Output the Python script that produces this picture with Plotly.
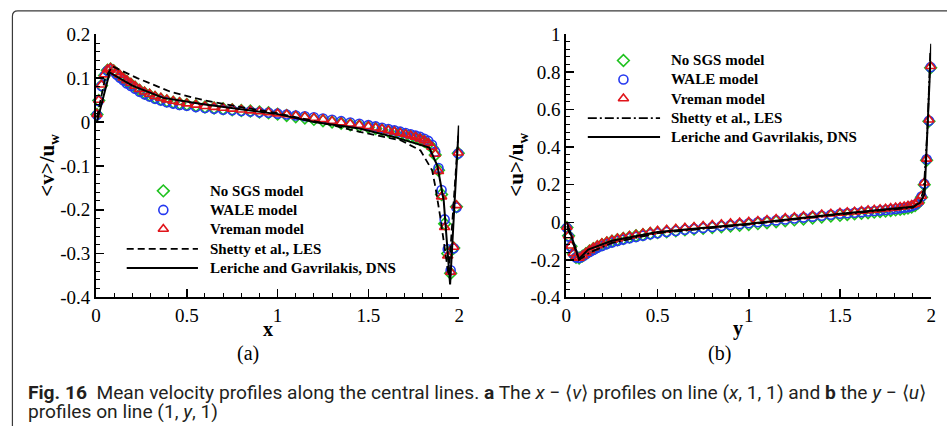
import plotly.graph_objects as go

# ---------------- data: panel (a)  <v>/u_w  vs x ----------------
xa = [0.005, 0.015, 0.03, 0.047, 0.063, 0.08, 0.097, 0.114, 0.132, 0.15, 0.17, 0.192, 0.215, 0.24, 0.267,
      0.295, 0.325, 0.357, 0.39, 0.425, 0.46, 0.5,
      0.55, 0.6, 0.65, 0.7, 0.75, 0.8, 0.85, 0.9, 0.95, 1.0, 1.05, 1.1, 1.15, 1.2, 1.25, 1.3, 1.35, 1.4, 1.45,
      1.5, 1.54, 1.575, 1.61, 1.643, 1.675, 1.705, 1.733, 1.76, 1.785, 1.808, 1.83, 1.85, 1.868, 1.886, 1.903,
      1.92, 1.937, 1.953, 1.97, 1.985, 1.995]
vreman_a = [0.018, 0.05, 0.085, 0.108, 0.12, 0.123, 0.119, 0.113, 0.107, 0.101, 0.095, 0.089, 0.082, 0.075, 0.069,
            0.064, 0.059, 0.055, 0.051, 0.048, 0.045, 0.042,
            0.039, 0.036, 0.034, 0.032, 0.03, 0.028, 0.026, 0.024, 0.022, 0.019, 0.017, 0.014, 0.012, 0.009, 0.006,
            0.002, -0.001, -0.004, -0.007,
            -0.01, -0.013, -0.016, -0.019, -0.022, -0.025, -0.028, -0.031, -0.034, -0.038, -0.042, -0.048, -0.057,
            -0.073, -0.112, -0.17, -0.24, -0.305, -0.342, -0.285, -0.19, -0.07]
wale_a = [0.016, 0.048, 0.082, 0.105, 0.117, 0.12, 0.115, 0.108, 0.101, 0.095, 0.088, 0.082, 0.076, 0.069, 0.063,
          0.058, 0.053, 0.049, 0.045, 0.042, 0.039, 0.037,
          0.034, 0.032, 0.03, 0.028, 0.027, 0.025, 0.024, 0.022, 0.021, 0.019, 0.017, 0.015, 0.013, 0.011, 0.008,
          0.005, 0.002, -0.001, -0.004,
          -0.007, -0.01, -0.013, -0.016, -0.019, -0.022, -0.025, -0.028, -0.031, -0.034, -0.038, -0.043, -0.052,
          -0.068, -0.105, -0.155, -0.222, -0.29, -0.338, -0.288, -0.195, -0.072]
nosgs_a = [0.017, 0.049, 0.083, 0.106, 0.118, 0.121, 0.117, 0.11, 0.104, 0.098, 0.092, 0.086, 0.079, 0.072, 0.066,
           0.061, 0.056, 0.052, 0.048, 0.045, 0.042, 0.04,
           0.037, 0.034, 0.032, 0.03, 0.028, 0.026, 0.025, 0.023, 0.021, 0.018, 0.015, 0.012, 0.009, 0.006, 0.003,
           0.0, -0.003, -0.006, -0.009,
           -0.012, -0.015, -0.018, -0.021, -0.024, -0.027, -0.03, -0.033, -0.036, -0.04, -0.044, -0.05, -0.058,
           -0.075, -0.11, -0.165, -0.232, -0.3, -0.345, -0.287, -0.193, -0.071]
dns_a_x = [0.005, 0.075, 0.2, 0.37, 0.6, 1.0, 1.2, 1.45, 1.65, 1.835, 1.88, 1.915, 1.95, 1.998]
dns_a_v = [0.0, 0.113, 0.083, 0.055, 0.04, 0.018, 0.0, -0.015, -0.035, -0.058, -0.1, -0.18, -0.37, -0.008]
les_a_x = [0.005, 0.05, 0.09, 0.227, 0.41, 0.59, 0.77, 1.0, 1.225, 1.46, 1.68, 1.787, 1.851, 1.869, 1.896,
           1.924, 1.942, 1.995]
les_a_v = [0.01, 0.1, 0.127, 0.1, 0.069, 0.05, 0.036, 0.02, 0.0, -0.023, -0.042, -0.065, -0.11, -0.148, -0.217,
           -0.293, -0.35, -0.03]

# ---------------- data: panel (b)  <u>/u_w  vs y ----------------
yb = [0.003, 0.012, 0.025, 0.038, 0.053, 0.07, 0.088, 0.107, 0.127, 0.148, 0.17, 0.195, 0.222, 0.25, 0.28,
      0.312, 0.346, 0.382, 0.42, 0.46, 0.5,
      0.55, 0.6, 0.65, 0.7, 0.75, 0.8, 0.85, 0.9, 0.95, 1.0, 1.05, 1.1, 1.15, 1.2, 1.25, 1.3, 1.35, 1.4, 1.45,
      1.5, 1.54, 1.58, 1.618, 1.654, 1.688, 1.72, 1.75, 1.778, 1.805, 1.83, 1.852, 1.873, 1.893, 1.912, 1.93,
      1.947, 1.962, 1.975, 1.988, 1.997]
vreman_b = [-0.025, -0.07, -0.125, -0.165, -0.185, -0.19, -0.178, -0.163, -0.148, -0.135, -0.123, -0.112, -0.102,
            -0.094, -0.087, -0.08, -0.073, -0.066, -0.059, -0.052, -0.046,
            -0.04, -0.035, -0.03, -0.025, -0.02, -0.015, -0.011, -0.006, -0.002, 0.002, 0.007, 0.012, 0.017,
            0.022, 0.027, 0.032, 0.036, 0.041, 0.045,
            0.05, 0.053, 0.056, 0.06, 0.063, 0.066, 0.069, 0.072, 0.075, 0.078, 0.081, 0.084, 0.087, 0.092, 0.098,
            0.11, 0.14, 0.21, 0.337, 0.545, 0.83]
wale_b = [-0.03, -0.075, -0.13, -0.168, -0.187, -0.19, -0.182, -0.17, -0.158, -0.147, -0.136, -0.126, -0.116,
          -0.107, -0.099, -0.092, -0.085, -0.078, -0.071, -0.064, -0.058,
          -0.052, -0.046, -0.04, -0.035, -0.03, -0.025, -0.02, -0.015, -0.01, -0.005, 0.0, 0.005, 0.01, 0.015,
          0.02, 0.025, 0.03, 0.035, 0.04,
          0.045, 0.048, 0.051, 0.054, 0.057, 0.06, 0.062, 0.065, 0.068, 0.071, 0.074, 0.077, 0.08, 0.085, 0.093,
          0.107, 0.137, 0.205, 0.335, 0.54, 0.825]
nosgs_b = [-0.028, -0.072, -0.128, -0.167, -0.186, -0.19, -0.18, -0.167, -0.153, -0.141, -0.13, -0.12, -0.11,
           -0.101, -0.093, -0.086, -0.079, -0.072, -0.066, -0.06, -0.055,
           -0.05, -0.045, -0.04, -0.036, -0.032, -0.028, -0.024, -0.02, -0.016, -0.012, -0.007, -0.002, 0.003,
           0.008, 0.013, 0.018, 0.023, 0.028, 0.033,
           0.037, 0.041, 0.045, 0.048, 0.051, 0.054, 0.057, 0.06, 0.063, 0.066, 0.069, 0.072, 0.076, 0.081, 0.089,
           0.104, 0.133, 0.2, 0.33, 0.538, 0.822]
dns_b_y = [0.003, 0.069, 0.12, 0.25, 0.5, 1.0, 1.5, 1.9, 1.94, 1.964, 2.0]
dns_b_u = [0.0, -0.195, -0.145, -0.098, -0.052, -0.008, 0.046, 0.082, 0.105, 0.15, 0.95]
les_b_y = [0.003, 0.07, 0.13, 0.25, 0.5, 1.0, 1.5, 1.9, 1.94, 1.96, 1.98, 1.995]
les_b_u = [-0.02, -0.2, -0.16, -0.11, -0.058, -0.012, 0.042, 0.078, 0.11, 0.18, 0.5, 0.9]

# ---------------- tick labels ----------------
x_tickvals = [0, 0.5, 1, 1.5, 2]
x_ticktext = ["0", "0.5", "1", "1.5", "2"]
ya_tickvals = [-0.4, -0.3, -0.2, -0.1, 0, 0.1, 0.2]
ya_ticktext = ["-0.4", "-0.3", "-0.2", "-0.1", "0", "0.1", "0.2"]
yb_tickvals = [-0.4, -0.2, 0, 0.2, 0.4, 0.6, 0.8, 1]
yb_ticktext = ["-0.4", "-0.2", "0", "0.2", "0.4", "0.6", "0.8", "1"]

series_names = ["No SGS model", "WALE model", "Vreman model"]
line_names = ["Shetty et al., LES", "Leriche and Gavrilakis, DNS"]

# ---------------- styling ----------------
W, H = 952, 437
GREEN, BLUE, RED = "#1fc21f", "#2438f0", "#e0141a"
SERIF = "Liberation Serif, Times New Roman, serif"
marker_styles = [
    dict(symbol="diamond-open", size=9, color=GREEN, line=dict(width=1.6, color=GREEN)),
    dict(symbol="circle-open", size=9, color=BLUE, line=dict(width=1.6, color=BLUE)),
    dict(symbol="triangle-up-open", size=9, color=RED, line=dict(width=1.6, color=RED)),
]

fig = go.Figure()


def add_panel(xv, series, dns_x, dns_y, les_x, les_y, les_dash, xa_name, ya_name):
    for s, ms in zip(series, marker_styles):
        fig.add_trace(go.Scatter(x=xv, y=s, mode="markers", marker=ms, cliponaxis=False,
                                 showlegend=False, xaxis=xa_name, yaxis=ya_name))
    fig.add_trace(go.Scatter(x=les_x, y=les_y, mode="lines", cliponaxis=False,
                             line=dict(color="black", width=1.8, dash=les_dash),
                             showlegend=False, xaxis=xa_name, yaxis=ya_name))
    fig.add_trace(go.Scatter(x=dns_x, y=dns_y, mode="lines", cliponaxis=False,
                             line=dict(color="black", width=2),
                             showlegend=False, xaxis=xa_name, yaxis=ya_name))


add_panel(xa, [nosgs_a, wale_a, vreman_a], dns_a_x, dns_a_v, les_a_x, les_a_v, "7px,4px", "x", "y")
add_panel(yb, [nosgs_b, wale_b, vreman_b], dns_b_y, dns_b_u, les_b_y, les_b_u, "9px,3px,2px,3px", "x2", "y2")

# ---------------- manual legends (pixel overlay axis x3/y3) ----------------
annotations = []


def add_legend(mx, lx0, lx1, tx, row_y, les_dash):
    for i, ms in enumerate(marker_styles):
        fig.add_trace(go.Scatter(x=[mx], y=[row_y[i]], mode="markers", marker=ms, showlegend=False,
                                 xaxis="x3", yaxis="y3", hoverinfo="skip"))
    fig.add_trace(go.Scatter(x=[lx0, lx1], y=[row_y[3], row_y[3]], mode="lines",
                             line=dict(color="black", width=1.8, dash=les_dash), showlegend=False,
                             xaxis="x3", yaxis="y3", hoverinfo="skip"))
    fig.add_trace(go.Scatter(x=[lx0, lx1], y=[row_y[4], row_y[4]], mode="lines",
                             line=dict(color="black", width=2), showlegend=False,
                             xaxis="x3", yaxis="y3", hoverinfo="skip"))
    for i, name in enumerate(series_names + line_names):
        annotations.append(dict(x=tx, y=row_y[i], xref="x3", yref="y3", text="<b>%s</b>" % name,
                                showarrow=False, xanchor="left", yanchor="middle",
                                font=dict(family=SERIF, size=15, color="black")))


add_legend(160, 123, 195, 205, [190, 210, 230, 251, 271], "7px,4px")
add_legend(625, 589, 662, 671, [53, 73, 93, 113.5, 133.5], "9px,3px,2px,3px")

# axis titles and panel labels
title_font = dict(family=SERIF, size=20, color="black")
annotations += [
    dict(x=266, y=335, xref="x3", yref="y3", text="<b>x</b>", showarrow=False, font=title_font),
    dict(x=741, y=335, xref="x3", yref="y3", text="<b>y</b>", showarrow=False, font=title_font),
    dict(x=44, y=163, xref="x3", yref="y3", text="<b>&lt;v&gt;/u<sub>w</sub></b>", showarrow=False,
         textangle=-90, font=dict(family=SERIF, size=21, color="black")),
    dict(x=518, y=163, xref="x3", yref="y3", text="<b>&lt;u&gt;/u<sub>w</sub></b>", showarrow=False,
         textangle=-90, font=dict(family=SERIF, size=21, color="black")),
    dict(x=246, y=361, xref="x3", yref="y3", text="(a)", showarrow=False,
         font=dict(family=SERIF, size=20, color="black")),
    dict(x=722, y=361, xref="x3", yref="y3", text="(b)", showarrow=False,
         font=dict(family=SERIF, size=20, color="black")),
]

# caption
CAP = "Roboto, Open Sans, sans-serif"
annotations += [
    dict(x=21, y=401.5, xref="x3", yref="y3", xanchor="left", yanchor="middle", showarrow=False,
         text="<b>Fig. 16</b>  Mean velocity profiles along the central lines. <b>a</b> The <i>x</i> \u2212 "
              "\u27e8<i>v</i>\u27e9 profiles on line (<i>x</i>, 1, 1) and <b>b</b> the <i>y</i> \u2212 "
              "\u27e8<i>u</i>\u27e9",
         font=dict(family=CAP, size=19.2, color="#231f20")),
    dict(x=21, y=422, xref="x3", yref="y3", xanchor="left", yanchor="middle", showarrow=False,
         text="profiles on line (1, <i>y</i>, 1)",
         font=dict(family=CAP, size=19.2, color="#231f20")),
]

# frame with rounded top-left corner (kept inside the page)
shapes = [dict(type="path", xref="x3", yref="y3",
               path="M 7.5,437 L 7.5,6.5 Q 7.5,1 13,1 L 952,1",
               line=dict(color="#3a3a3a", width=1.2))]

tick_font = dict(family=SERIF, size=19, color="black")


def xaxis_cfg(domain, anchor):
    return dict(domain=domain, range=[0, 2], anchor=anchor, tickmode="array", tickvals=x_tickvals,
                ticktext=x_ticktext, ticks="inside", ticklen=8, tickwidth=1.5, tickcolor="black",
                showline=True, linewidth=2, linecolor="black", showgrid=False, zeroline=False,
                tickfont=tick_font, fixedrange=True,
                minor=dict(tickmode="linear", tick0=0, dtick=0.1, ticks="inside", ticklen=4,
                           tickwidth=1, tickcolor="black", showgrid=False))


def yaxis_cfg(domain, anchor, rng, tv, tt, minor_dt):
    return dict(domain=domain, range=rng, anchor=anchor, tickmode="array", tickvals=tv, ticktext=tt,
                ticks="inside", ticklen=8, tickwidth=1.5, tickcolor="black",
                showline=True, linewidth=2, linecolor="black", showgrid=False, zeroline=False,
                tickfont=tick_font, fixedrange=True,
                minor=dict(tickmode="linear", tick0=0, dtick=minor_dt, ticks="inside", ticklen=4,
                           tickwidth=1, tickcolor="black", showgrid=False))


ydom = [1 - 302 / H, 1 - 25.5 / H]
fig.update_layout(
    width=W, height=H, margin=dict(l=0, r=0, t=0, b=0),
    paper_bgcolor="white", plot_bgcolor="rgba(0,0,0,0)",
    xaxis=xaxis_cfg([92 / W, 459 / W], "y"),
    yaxis=yaxis_cfg(ydom, "x", [-0.4, 0.2], ya_tickvals, ya_ticktext, 0.02),
    xaxis2=xaxis_cfg([567.3 / W, 936 / W], "y2"),
    yaxis2=yaxis_cfg(ydom, "x2", [-0.4, 1.0], yb_tickvals, yb_ticktext, 0.04),
    xaxis3=dict(domain=[0, 1], range=[0, W], anchor="y3", visible=False, fixedrange=True),
    yaxis3=dict(domain=[0, 1], range=[H, 0], anchor="x3", visible=False, fixedrange=True),
    annotations=annotations, shapes=shapes, showlegend=False,
)

fig.write_html("out.html", config={"displayModeBar": False, "staticPlot": True},
               post_script="document.body.style.margin='0px';")
